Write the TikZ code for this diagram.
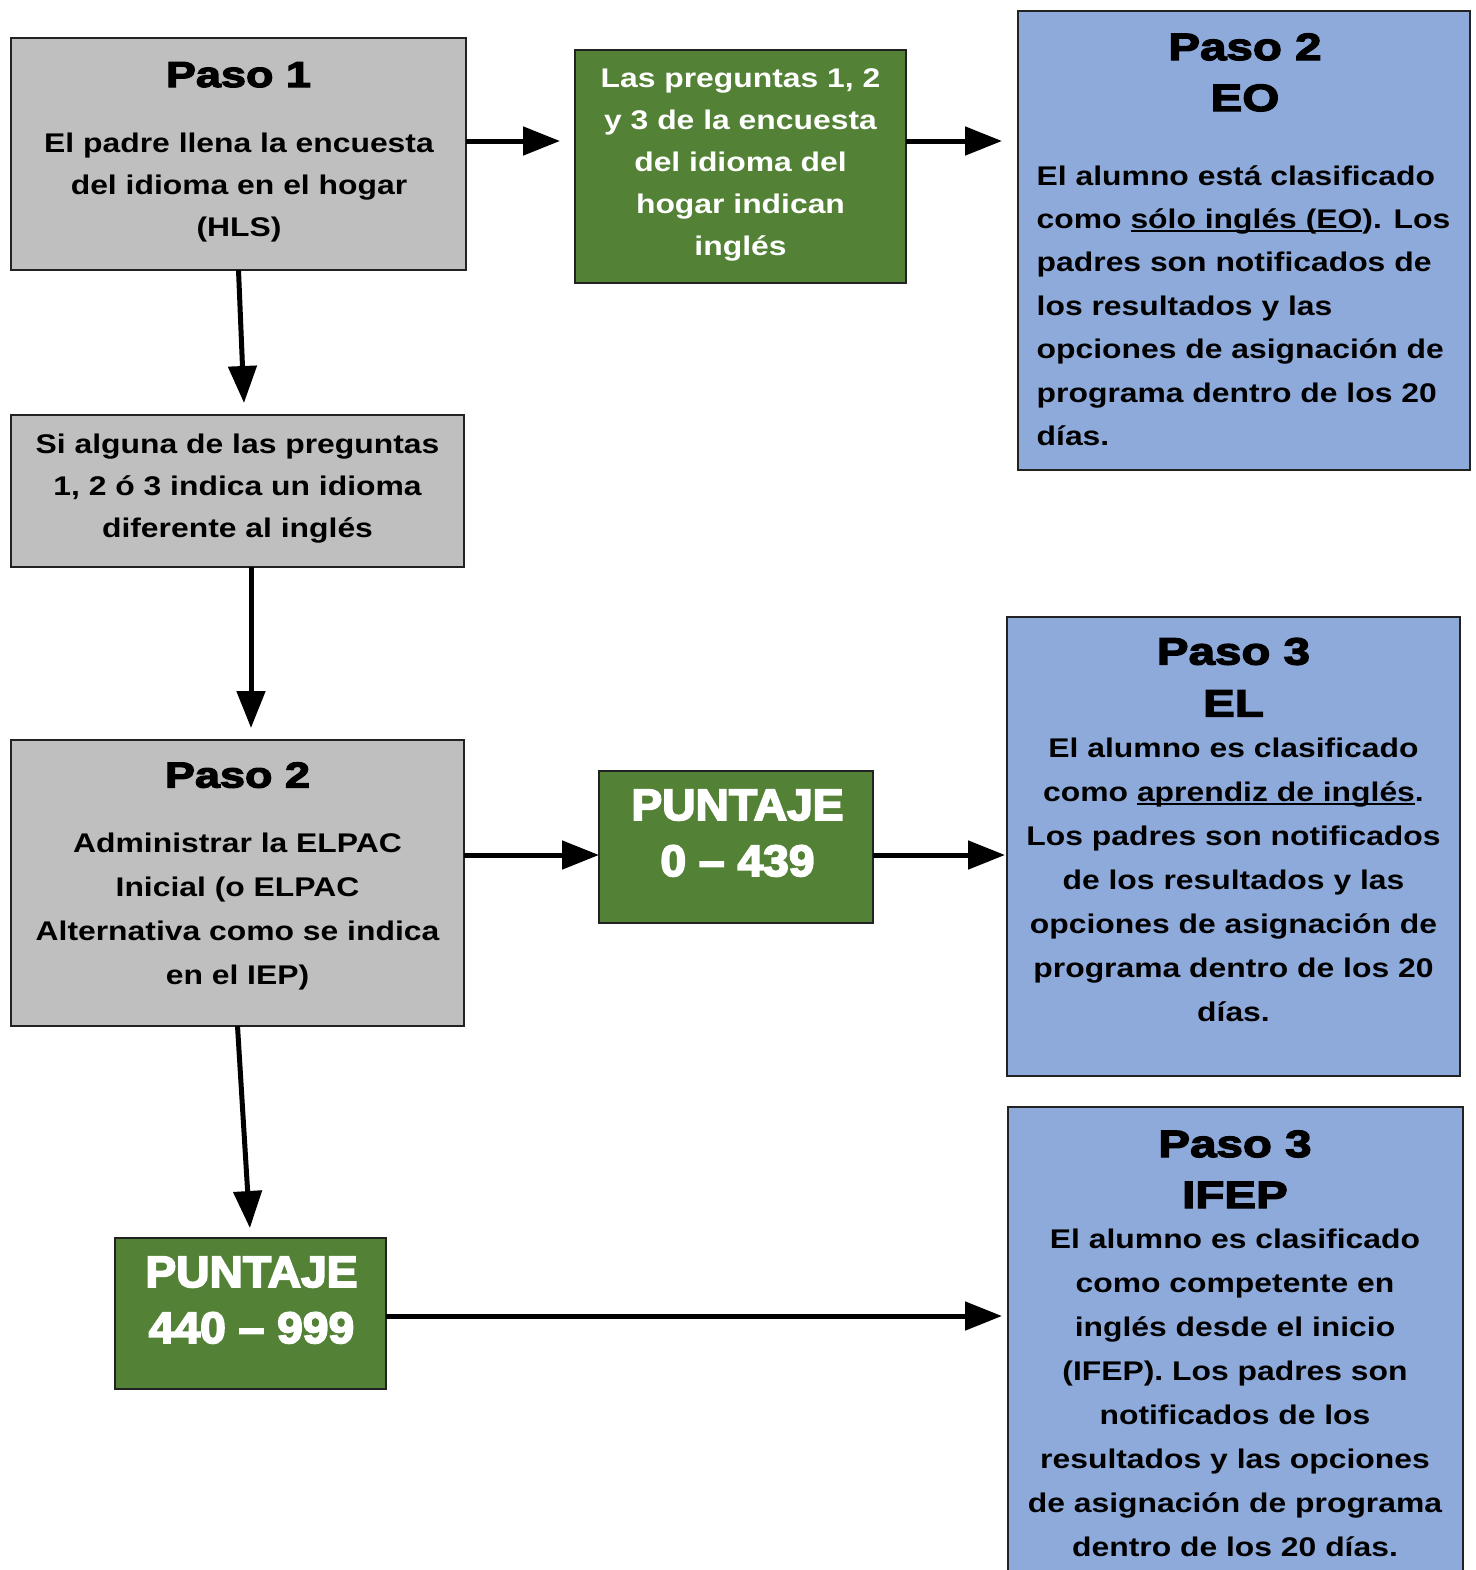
\documentclass[tikz,border=0pt]{standalone}
\usepackage{fontspec}
\setmainfont{Liberation Sans}
\newfontfamily\bodyfont[FakeStretch=1.18]{Liberation Sans Bold}
\newfontfamily\titlefont[FakeStretch=1.25,FakeBold=3.5]{Liberation Sans Bold}
\newfontfamily\punfont[FakeStretch=1.05,FakeBold=4]{Liberation Sans Bold}
\usetikzlibrary{arrows.meta}
\definecolor{graybg}{HTML}{BFBFBF}
\definecolor{greenbg}{HTML}{538135}
\definecolor{bluebg}{HTML}{8EAADB}
\definecolor{edgec}{HTML}{222222}
\newsavebox\ulbox
\newcommand\myul[1]{\sbox\ulbox{#1}\rlap{\rule[-1.8pt]{\wd\ulbox}{1pt}}\usebox\ulbox}
\newcommand\fl{\rule{0pt}{1em}}
\begin{document}
\begin{tikzpicture}[x=0.5pt,y=-0.5pt,
  box/.style={draw=edgec,line width=1pt,inner sep=0pt,outer sep=0pt},
  graybox/.style={box,fill=graybg},
  greenbox/.style={box,fill=greenbg},
  bluebox/.style={box,fill=bluebg},
  txt/.style={inner sep=0pt,outer sep=0pt,anchor=north,align=center},
  bodyg/.style={txt,font=\bodyfont\fontsize{13.5}{21}\selectfont},
  bodyb/.style={txt,font=\bodyfont\fontsize{13.5}{22}\selectfont},
  gtitle/.style={inner sep=0pt,anchor=base,font=\titlefont\fontsize{18}{22}\selectfont},
  btitle/.style={txt,font=\titlefont\fontsize{19}{25.5}\selectfont},
  puntaje/.style={txt,text=white,font=\punfont\fontsize{22}{28}\selectfont},
  arr/.style={line width=2.5pt,draw=black,-{Triangle[length=18.5pt,width=14pt]}},
]
\clip (0,0) rectangle (1476,1570);
\fill[white] (0,0) rectangle (1476,1570);

% boxes
\node[graybox,minimum width=227.5pt,minimum height=116pt] (p1) at (238.5,154) {};
\node[greenbox,minimum width=165.5pt,minimum height=116.5pt] (q1) at (740.5,166.5) {};
\node[bluebox,minimum width=226pt,minimum height=229.5pt] (eo) at (1244,240.5) {};
\node[graybox,minimum width=226.5pt,minimum height=76pt] (si) at (237.5,491) {};
\node[graybox,minimum width=226.5pt,minimum height=143pt] (p2) at (237.5,883) {};
\node[greenbox,minimum width=137pt,minimum height=76pt] (g1) at (736,847) {};
\node[bluebox,minimum width=226.5pt,minimum height=229.5pt] (el) at (1233.5,846.5) {};
\node[greenbox,minimum width=135.5pt,minimum height=75.5pt] (g2) at (250.5,1313.5) {};
\node[bluebox,minimum width=227.5pt,minimum height=246.5pt] (ifep) at (1235.5,1353.5) {};

% texts
\node[gtitle] (p1t) at (238.5,87) {Paso 1};
\node[bodyg] (p1b) at (239,125) {\fl El padre llena la encuesta\\del idioma en el hogar\\(HLS)};
\node[bodyg,text=white] (q1b) at (740.5,60.7) {\fl Las preguntas 1, 2\\y 3 de la encuesta\\del idioma del\\hogar indican\\inglés};
\node[btitle] (eot) at (1245,22) {\fl Paso 2\\EO};
\node[txt,anchor=north west,align=left,font=\bodyfont\fontsize{13.5}{21.7}\selectfont] (eob) at (1036.7,158)
  {\fl El alumno está clasificado\\como \myul{sólo inglés (EO}). Los\\padres son notificados de\\los resultados y las\\opciones de asignación de\\programa dentro de los 20\\días.};
\node[bodyg] (sib) at (237.5,426) {\fl Si alguna de las preguntas\\1, 2 ó 3 indica un idioma\\diferente al inglés};
\node[gtitle] (p2t) at (237.5,787.5) {Paso 2};
\node[bodyb] (p2b) at (237.5,825.7) {\fl Administrar la ELPAC\\Inicial (o ELPAC\\Alternativa como se indica\\en el IEP)};
\node[puntaje] (g1t) at (737.5,776) {\fl PUNTAJE\\0 – 439};
\node[btitle,font=\titlefont\fontsize{19}{26}\selectfont] (elt) at (1233.5,626.5) {\fl Paso 3\\EL};
\node[bodyb] (elb) at (1233.5,730.7) {\fl El alumno es clasificado\\como \myul{aprendiz de inglés}.\\Los padres son notificados\\de los resultados y las\\opciones de asignación de\\programa dentro de los 20\\días.};
\node[puntaje] (g2t) at (251.5,1243) {\fl PUNTAJE\\440 – 999};
\node[btitle] (ifept) at (1235,1119) {\fl Paso 3\\IFEP};
\node[bodyb] (ifepb) at (1235,1221) {\fl El alumno es clasificado\\como competente en\\inglés desde el inicio\\(IFEP). Los padres son\\notificados de los\\resultados y las opciones\\de asignación de programa\\dentro de los 20 días.};

% connectors
\coordinate (ya) at (0,141);
\coordinate (yb) at (0,855);
\coordinate (yc) at (0,1316);
\draw[arr,shorten >=7.5pt] (p1.east |- ya) -- (q1.west |- ya);
\draw[arr,shorten >=8pt] (q1.east |- ya) -- (eo.west |- ya);
\draw[arr,shorten >=6pt] (p1.south) -- ([xshift=3.5pt]si.north);
\draw[arr,shorten >=6pt] ([xshift=6.75pt]si.south) -- ([xshift=6.75pt]p2.north);
\draw[arr] (p2.east |- yb) -- (g1.west |- yb);
\draw[arr,shorten >=1pt] (g1.east |- yb) -- (el.west |- yb);
\draw[arr,shorten >=5pt] (p2.south) -- (g2.north);
\draw[arr,shorten >=3pt] (g2.east |- yc) -- (ifep.west |- yc);
\end{tikzpicture}
\end{document}
